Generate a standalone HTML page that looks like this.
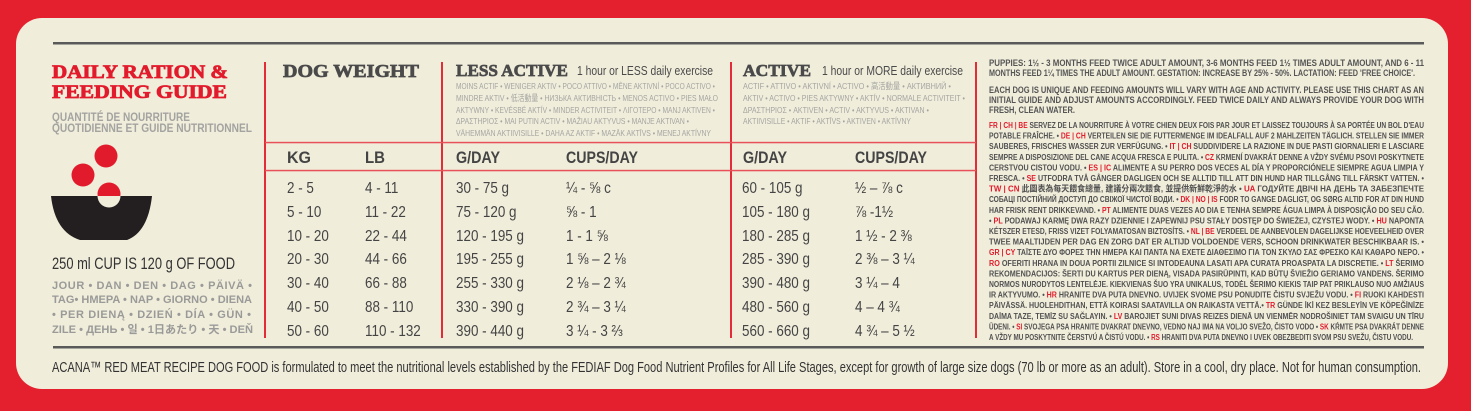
<!DOCTYPE html>
<html><head><meta charset="utf-8"><style>
html,body{margin:0;padding:0;background:#e5202e;}
svg{display:block}
</style></head><body>
<svg width="1471" height="411" viewBox="0 0 1471 411" xmlns="http://www.w3.org/2000/svg" font-family="'Liberation Sans','Noto Sans CJK SC',sans-serif">
<rect x="0" y="0" width="1471" height="411" fill="#e5202e"/>
<rect x="16" y="18" width="1432" height="371" rx="26" ry="26" fill="#f0eddb"/>
<rect x="53" y="42" width="1371" height="2.5" fill="#5a5a5a"/>
<rect x="53" y="346" width="1371" height="2.5" fill="#5a5a5a"/>
<g fill="#e52a38">
<rect x="264" y="62" width="2" height="276"/>
<rect x="441" y="62" width="2" height="276"/>
<rect x="730" y="62" width="2" height="276"/>
<rect x="975" y="62" width="2" height="276"/>
</g>
<rect x="265" y="141.8" width="711" height="1.5" fill="#e8505a"/>
<rect x="265" y="169.8" width="711" height="1.5" fill="#e8505a"/>

<g font-family="'Liberation Serif',serif" font-weight="bold" fill="#e21b2c" stroke="#e21b2c" stroke-width="0.8" font-size="19">
<text x="52" y="78" textLength="176" lengthAdjust="spacingAndGlyphs">DAILY RATION &amp;</text>
<text x="52" y="98" textLength="175" lengthAdjust="spacingAndGlyphs">FEEDING GUIDE</text>
</g>
<g fill="#a3a3a0" font-size="12" font-weight="bold">
<text x="52" y="121" textLength="138" lengthAdjust="spacingAndGlyphs">QUANTITÉ DE NOURRITURE</text>
<text x="52" y="132" textLength="200" lengthAdjust="spacingAndGlyphs">QUOTIDIENNE ET GUIDE NUTRITIONNEL</text>
</g>

<circle cx="106" cy="156" r="11.5" fill="#e21b2c"/>
<circle cx="83" cy="175" r="11.5" fill="#e21b2c"/>
<circle cx="109" cy="194" r="11.5" fill="#e21b2c"/>
<path d="M51,196 L152,196 Q148,232 127,240 L80,240 Q55,232 51,196Z" fill="#231f20"/>
<path d="M97.5,196 A11.5,11.5 0 0 0 120.5,196Z" fill="#f0eddb"/>

<text x="52" y="269" font-size="17" fill="#333" textLength="183" lengthAdjust="spacingAndGlyphs">250 ml CUP IS 120 g OF FOOD</text>
<g fill="#9a9a98" font-size="11" font-weight="bold">
<text x="52" y="289" textLength="200" lengthAdjust="spacing">JOUR • DAN • DEN • DAG • PÄIVÄ •</text>
<text x="52" y="303" textLength="200" lengthAdjust="spacingAndGlyphs">TAG• HMEPA • NAP • GIORNO • DIENA</text>
<text x="52" y="318" textLength="199" lengthAdjust="spacing">• PER DIENĄ • DZIEŃ • DÍA • GÜN •</text>
<text x="52" y="333" textLength="201" lengthAdjust="spacingAndGlyphs">ZILE • ДЕНЬ • 일 • 1日あたり • 天 • DEŇ</text>
</g>

<g font-family="'Liberation Serif',serif" font-weight="bold" fill="#4a4a4a" stroke="#4a4a4a" stroke-width="0.7">
<text x="283" y="77" font-size="18" textLength="136" lengthAdjust="spacingAndGlyphs">DOG WEIGHT</text>
<text x="456" y="76" font-size="17" textLength="112" lengthAdjust="spacingAndGlyphs">LESS ACTIVE</text>
<text x="743" y="76" font-size="17" textLength="68" lengthAdjust="spacingAndGlyphs">ACTIVE</text>
</g>
<g fill="#4a4a4a" font-size="13">
<text x="577" y="75" textLength="136" lengthAdjust="spacingAndGlyphs">1 hour or LESS daily exercise</text>
<text x="822" y="75" textLength="141" lengthAdjust="spacingAndGlyphs">1 hour or MORE daily exercise</text>
</g>
<g fill="#a5a5a2" font-size="8.5">
<text x="456" y="89" textLength="259" lengthAdjust="spacingAndGlyphs">MOINS ACTIF • WENIGER AKTIV • POCO ATTIVO • MÊNE AKTIVNÍ • POCO ACTIVO •</text>
<text x="456" y="101" textLength="262" lengthAdjust="spacingAndGlyphs">MINDRE AKTIV • 低活動量 • НИЗЬКА АКТИВНІСТЬ • MENOS ACTIVO • PIES MAŁO</text>
<text x="456" y="113" textLength="259" lengthAdjust="spacingAndGlyphs">AKTYWNY • KEVÉSBÉ AKTÍV • MINDER ACTIVITEIT • ΛΙΓΟΤΕΡΟ • MANJ AKTIVEN •</text>
<text x="456" y="124" textLength="233" lengthAdjust="spacingAndGlyphs">ΔΡΑΣΤΗΡΙΟΣ • MAI PUTIN ACTIV • MAŽIAU AKTYVUS • MANJE AKTIVAN •</text>
<text x="456" y="136" textLength="255" lengthAdjust="spacingAndGlyphs">VÄHEMMÄN AKTIIVISILLE • DAHA AZ AKTIF • MAZĀK AKTĪVS • MENEJ AKTÍVNY</text>
<text x="743" y="89" textLength="208" lengthAdjust="spacingAndGlyphs">ACTIF • ATTIVO • AKTIVNÍ • ACTIVO • 高活動量 • АКТИВНИЙ •</text>
<text x="743" y="101" textLength="222" lengthAdjust="spacingAndGlyphs">AKTIV • ACTIVO • PIES AKTYWNY • AKTÍV • NORMALE ACTIVITEIT •</text>
<text x="743" y="113" textLength="186" lengthAdjust="spacingAndGlyphs">ΔΡΑΣΤΗΡΙΟΣ • AKTIVEN • ACTIV • AKTYVUS • AKTIVAN •</text>
<text x="743" y="124" textLength="168" lengthAdjust="spacingAndGlyphs">AKTIIVISILLE • AKTIF • AKTĪVS • AKTIVEN • AKTÍVNY</text>
</g>
<g fill="#444" font-size="17" font-weight="bold">
<text x="287" y="163" textLength="24" lengthAdjust="spacingAndGlyphs">KG</text>
<text x="365" y="163" textLength="20" lengthAdjust="spacingAndGlyphs">LB</text>
<text x="456" y="163" textLength="44" lengthAdjust="spacingAndGlyphs">G/DAY</text>
<text x="566" y="163" textLength="72" lengthAdjust="spacingAndGlyphs">CUPS/DAY</text>
<text x="743" y="163" textLength="44" lengthAdjust="spacingAndGlyphs">G/DAY</text>
<text x="855" y="163" textLength="72" lengthAdjust="spacingAndGlyphs">CUPS/DAY</text>
</g>

<g fill="#444" font-size="16">
<g transform="translate(287,0) scale(0.84,1)">
<text x="0" y="193">2 - 5</text><text x="0" y="217">5 - 10</text><text x="0" y="241">10 - 20</text><text x="0" y="264">20 - 30</text><text x="0" y="288">30 - 40</text><text x="0" y="312">40 - 50</text><text x="0" y="336">50 - 60</text>
</g>
<g transform="translate(365,0) scale(0.84,1)">
<text x="0" y="193">4 - 11</text><text x="0" y="217">11 - 22</text><text x="0" y="241">22 - 44</text><text x="0" y="264">44 - 66</text><text x="0" y="288">66 - 88</text><text x="0" y="312">88 - 110</text><text x="0" y="336">110 - 132</text>
</g>
<g transform="translate(456,0) scale(0.84,1)">
<text x="0" y="193">30 - 75 g</text><text x="0" y="217">75 - 120 g</text><text x="0" y="241">120 - 195 g</text><text x="0" y="264">195 - 255 g</text><text x="0" y="288">255 - 330 g</text><text x="0" y="312">330 - 390 g</text><text x="0" y="336">390 - 440 g</text>
</g>
<g transform="translate(566,0) scale(0.84,1)">
<text x="0" y="193">¼ - ⅝ c</text><text x="0" y="217">⅝ - 1</text><text x="0" y="241">1 - 1 ⅝</text><text x="0" y="264">1 ⅝ – 2 ⅛</text><text x="0" y="288">2 ⅛ – 2 ¾</text><text x="0" y="312">2 ¾ – 3 ¼</text><text x="0" y="336">3 ¼ - 3 ⅔</text>
</g>
<g transform="translate(742,0) scale(0.84,1)">
<text x="0" y="193">60 - 105 g</text><text x="0" y="217">105 - 180 g</text><text x="0" y="241">180 - 285 g</text><text x="0" y="264">285 - 390 g</text><text x="0" y="288">390 - 480 g</text><text x="0" y="312">480 - 560 g</text><text x="0" y="336">560 - 660 g</text>
</g>
<g transform="translate(855,0) scale(0.84,1)">
<text x="0" y="193">½ – ⅞ c</text><text x="0" y="217">⅞ -1½</text><text x="0" y="241">1 ½ - 2 ⅜</text><text x="0" y="264">2 ⅜ – 3 ¼</text><text x="0" y="288">3 ¼ – 4</text><text x="0" y="312">4 – 4 ¾</text><text x="0" y="336">4 ¾ – 5 ½</text>
</g>
</g>

<g fill="#555" font-size="9" font-weight="bold">
<text x="989" y="66" textLength="435" lengthAdjust="spacingAndGlyphs">PUPPIES: 1½ - 3 MONTHS FEED TWICE ADULT AMOUNT, 3-6 MONTHS FEED 1½ TIMES ADULT AMOUNT, AND 6 - 11</text>
<text x="989" y="76" textLength="426" lengthAdjust="spacingAndGlyphs">MONTHS FEED 1¼ TIMES THE ADULT AMOUNT. GESTATION: INCREASE BY 25% - 50%. LACTATION: FEED 'FREE CHOICE'.</text>
<text x="989" y="93" textLength="435" lengthAdjust="spacingAndGlyphs">EACH DOG IS UNIQUE AND FEEDING AMOUNTS WILL VARY WITH AGE AND ACTIVITY. PLEASE USE THIS CHART AS AN</text>
<text x="989" y="103" textLength="435" lengthAdjust="spacingAndGlyphs">INITIAL GUIDE AND ADJUST AMOUNTS ACCORDINGLY. FEED TWICE DAILY AND ALWAYS PROVIDE YOUR DOG WITH</text>
<text x="989" y="113" textLength="86" lengthAdjust="spacingAndGlyphs">FRESH, CLEAN WATER.</text>
</g>
<g fill="#505050" font-size="8.6" font-weight="bold">
<text x="989" y="128" textLength="435" lengthAdjust="spacingAndGlyphs"><tspan fill="#e21b2c">FR | CH | BE</tspan> SERVEZ DE LA NOURRITURE À VOTRE CHIEN DEUX FOIS PAR JOUR ET LAISSEZ TOUJOURS À SA PORTÉE UN BOL D'EAU</text>
<text x="989" y="138.6" textLength="435" lengthAdjust="spacingAndGlyphs">POTABLE FRAÎCHE. • <tspan fill="#e21b2c">DE | CH</tspan> VERTEILEN SIE DIE FUTTERMENGE IM IDEALFALL AUF 2 MAHLZEITEN TÄGLICH. STELLEN SIE IMMER</text>
<text x="989" y="149.2" textLength="435" lengthAdjust="spacingAndGlyphs">SAUBERES, FRISCHES WASSER ZUR VERFÜGUNG. • <tspan fill="#e21b2c">IT | CH</tspan> SUDDIVIDERE LA RAZIONE IN DUE PASTI GIORNALIERI E LASCIARE</text>
<text x="989" y="159.8" textLength="435" lengthAdjust="spacingAndGlyphs">SEMPRE A DISPOSIZIONE DEL CANE ACQUA FRESCA E PULITA. • <tspan fill="#e21b2c">CZ</tspan> KRMENÍ DVAKRÁT DENNE A VŽDY SVÉMU PSOVI POSKYTNETE</text>
<text x="989" y="170.4" textLength="435" lengthAdjust="spacingAndGlyphs">CERSTVOU CISTOU VODU. • <tspan fill="#e21b2c">ES | IC</tspan> ALIMENTE A SU PERRO DOS VECES AL DÍA Y PROPORCIÓNELE SIEMPRE AGUA LIMPIA Y</text>
<text x="989" y="181" textLength="435" lengthAdjust="spacingAndGlyphs">FRESCA. • <tspan fill="#e21b2c">SE</tspan> UTFODRA TVÅ GÅNGER DAGLIGEN OCH SE ALLTID TILL ATT DIN HUND HAR TILLGÅNG TILL FÄRSKT VATTEN. •</text>
<text x="989" y="191.6" textLength="435" lengthAdjust="spacingAndGlyphs"><tspan fill="#e21b2c">TW | CN</tspan> 此圖表為每天餵食總量, 建議分兩次餵食, 並提供新鮮乾淨的水 • <tspan fill="#e21b2c">UA</tspan> ГОДУЙТЕ ДВІЧІ НА ДЕНЬ ТА ЗАБЕЗПЕЧТЕ</text>
<text x="989" y="202.2" textLength="435" lengthAdjust="spacingAndGlyphs">СОБАЦІ ПОСТІЙНИЙ ДОСТУП ДО СВІЖОЇ ЧИСТОЇ ВОДИ. • <tspan fill="#e21b2c">DK | NO | IS</tspan> FODR TO GANGE DAGLIGT, OG SØRG ALTID FOR AT DIN HUND</text>
<text x="989" y="212.8" textLength="435" lengthAdjust="spacingAndGlyphs">HAR FRISK RENT DRIKKEVAND. • <tspan fill="#e21b2c">PT</tspan> ALIMENTE DUAS VEZES AO DIA E TENHA SEMPRE ÁGUA LIMPA À DISPOSIÇÃO DO SEU CÃO.</text>
<text x="989" y="223.4" textLength="435" lengthAdjust="spacingAndGlyphs">• <tspan fill="#e21b2c">PL</tspan> PODAWAJ KARMĘ DWA RAZY DZIENNIE I ZAPEWNIJ PSU STAŁY DOSTĘP DO ŚWIEŻEJ, CZYSTEJ WODY. • <tspan fill="#e21b2c">HU</tspan> NAPONTA</text>
<text x="989" y="234" textLength="435" lengthAdjust="spacingAndGlyphs">KÉTSZER ETESD, FRISS VIZET FOLYAMATOSAN BIZTOSÍTS. • <tspan fill="#e21b2c">NL | BE</tspan> VERDEEL DE AANBEVOLEN DAGELIJKSE HOEVEELHEID OVER</text>
<text x="989" y="244.6" textLength="435" lengthAdjust="spacingAndGlyphs">TWEE MAALTIJDEN PER DAG EN ZORG DAT ER ALTIJD VOLDOENDE VERS, SCHOON DRINKWATER BESCHIKBAAR IS. •</text>
<text x="989" y="255.2" textLength="435" lengthAdjust="spacingAndGlyphs"><tspan fill="#e21b2c">GR | CY</tspan> ΤΑΪΣΤΕ ΔΥΟ ΦΟΡΕΣ ΤΗΝ ΗΜΕΡΑ ΚΑΙ ΠΑΝΤΑ ΝΑ ΕΧΕΤΕ ΔΙΑΘΕΣΙΜΟ ΓΙΑ ΤΟΝ ΣΚΥΛΟ ΣΑΣ ΦΡΕΣΚΟ ΚΑΙ ΚΑΘΑΡΟ ΝΕΡΟ. •</text>
<text x="989" y="265.8" textLength="435" lengthAdjust="spacingAndGlyphs"><tspan fill="#e21b2c">RO</tspan> OFERITI HRANA IN DOUA PORTII ZILNICE SI INTODEAUNA LASATI APA CURATA PROASPATA LA DISCRETIE. • <tspan fill="#e21b2c">LT</tspan> ŠERIMO</text>
<text x="989" y="276.4" textLength="435" lengthAdjust="spacingAndGlyphs">REKOMENDACIJOS: ŠERTI DU KARTUS PER DIENĄ, VISADA PASIRŪPINTI, KAD BŪTŲ ŠVIEŽIO GERIAMO VANDENS. ŠERIMO</text>
<text x="989" y="287" textLength="435" lengthAdjust="spacingAndGlyphs">NORMOS NURODYTOS LENTELĖJE. KIEKVIENAS ŠUO YRA UNIKALUS, TODĖL ŠERIMO KIEKIS TAIP PAT PRIKLAUSO NUO AMŽIAUS</text>
<text x="989" y="297.6" textLength="435" lengthAdjust="spacingAndGlyphs">IR AKTYVUMO. • <tspan fill="#e21b2c">HR</tspan> HRANITE DVA PUTA DNEVNO. UVIJEK SVOME PSU PONUDITE ČISTU SVJEŽU VODU. • <tspan fill="#e21b2c">FI</tspan> RUOKI KAHDESTI</text>
<text x="989" y="308.2" textLength="435" lengthAdjust="spacingAndGlyphs">PÄIVÄSSÄ. HUOLEHDITHAN, ETTÄ KOIRASI SAATAVILLA ON RAIKASTA VETTÄ.• <tspan fill="#e21b2c">TR</tspan> GÜNDE İKİ KEZ BESLEYİN VE KÖPEĞİNİZE</text>
<text x="989" y="318.8" textLength="435" lengthAdjust="spacingAndGlyphs">DAİMA TAZE, TEMİZ SU SAĞLAYIN. • <tspan fill="#e21b2c">LV</tspan> BAROJIET SUNI DIVAS REIZES DIENĀ UN VIENMĒR NODROŠINIET TAM SVAIGU UN TĪRU</text>
<text x="989" y="329.4" textLength="435" lengthAdjust="spacingAndGlyphs">ŪDENI. • <tspan fill="#e21b2c">SI</tspan> SVOJEGA PSA HRANITE DVAKRAT DNEVNO, VEDNO NAJ IMA NA VOLJO SVEŽO, ČISTO VODO • <tspan fill="#e21b2c">SK</tspan> KŔMTE PSA DVAKRÁT DENNE</text>
<text x="989" y="340" textLength="424" lengthAdjust="spacingAndGlyphs">A VŽDY MU POSKYTNITE ČERSTVÚ A ČISTÚ VODU. • <tspan fill="#e21b2c">RS</tspan> HRANITI DVA PUTA DNEVNO I UVEK OBEZBEDITI SVOM PSU SVEŽU, ČISTU VODU.</text>
</g>

<text x="52" y="372" font-size="15" fill="#333" textLength="1369" lengthAdjust="spacingAndGlyphs">ACANA™ RED MEAT RECIPE DOG FOOD is formulated to meet the nutritional levels established by the FEDIAF Dog Food Nutrient Profiles for All Life Stages, except for growth of large size dogs (70 lb or more as an adult). Store in a cool, dry place. Not for human consumption.</text>
</svg>
</body></html>
